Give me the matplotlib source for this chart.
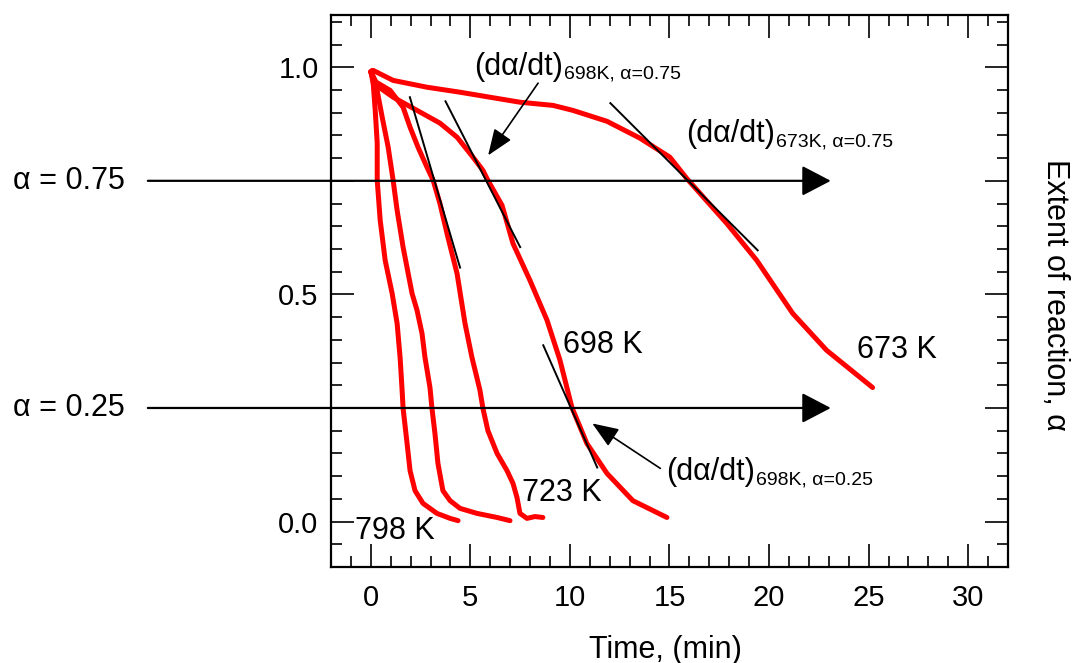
import numpy as np
import matplotlib
matplotlib.use("Agg")
import matplotlib.pyplot as plt
from matplotlib.ticker import MultipleLocator

plt.rcParams['font.family'] = ['Liberation Sans', 'DejaVu Sans']

# time (min) / extent of reaction for each temperature
t_798 = [0, 0.07, 0.22, 0.32, 0.32, 0.47, 0.72, 1.07, 1.32, 1.47, 1.57, 1.62, 1.82, 1.97, 2.22, 2.62, 3.32, 3.98, 4.38]
a_798 = [0.99, 0.993, 0.905, 0.833, 0.751, 0.663, 0.575, 0.502, 0.436, 0.361, 0.289, 0.249, 0.172, 0.112, 0.068, 0.040, 0.018, 0.007, 0.002]

t_748 = [0, 0.22, 0.57, 0.87, 1.12, 1.32, 1.62, 2.07, 2.32, 2.57, 2.72, 2.97, 3.07, 3.22, 3.37, 3.62, 3.98, 4.48, 5.33, 6.34, 6.99]
a_748 = [0.99, 0.971, 0.890, 0.824, 0.751, 0.685, 0.604, 0.502, 0.465, 0.414, 0.361, 0.295, 0.249, 0.194, 0.128, 0.068, 0.046, 0.029, 0.018, 0.009, 0.002]

t_723 = [0, 0.12, 0.97, 1.62, 1.97, 2.37, 2.82, 3.13, 3.47, 3.87, 4.33, 4.73, 5.08, 5.48, 5.63, 5.88, 6.34, 6.84, 7.14, 7.34, 7.49, 7.84, 8.24, 8.64]
a_723 = [0.99, 0.971, 0.949, 0.912, 0.868, 0.824, 0.780, 0.751, 0.700, 0.626, 0.546, 0.436, 0.361, 0.289, 0.249, 0.200, 0.150, 0.112, 0.084, 0.053, 0.018, 0.007, 0.011, 0.009]

t_698 = [0, 0.12, 1.12, 2.32, 3.47, 4.33, 5.13, 5.63, 5.88, 6.59, 7.14, 7.99, 8.85, 9.50, 10.10, 10.85, 11.86, 13.16, 14.87]
a_698 = [0.99, 0.965, 0.934, 0.905, 0.877, 0.846, 0.802, 0.773, 0.751, 0.696, 0.612, 0.531, 0.443, 0.355, 0.251, 0.172, 0.106, 0.046, 0.009]

t_673 = [0, 0.12, 1.12, 2.82, 4.48, 5.98, 7.49, 9.15, 10.15, 11.86, 13.51, 15.02, 15.87, 17.88, 19.38, 21.19, 22.89, 25.20]
a_673 = [0.99, 0.993, 0.971, 0.956, 0.945, 0.934, 0.923, 0.916, 0.905, 0.881, 0.844, 0.802, 0.755, 0.656, 0.575, 0.458, 0.377, 0.295]

# tangent segments (x0, x1), (y0, y1)
tan_723_x = [1.96, 4.48]
tan_723_y = [0.934, 0.559]
tan_698a_x = [3.75, 7.50]
tan_698a_y = [0.925, 0.604]
tan_698b_x = [8.66, 11.37]
tan_698b_y = [0.388, 0.119]
tan_673_x = [12.03, 19.43]
tan_673_y = [0.921, 0.597]

alpha_levels = [0.75, 0.25]

fig = plt.figure(figsize=(10.73, 6.63), dpi=100)
ax = fig.add_axes([0.3085, 0.1448, 0.6309, 0.8326])

red = '#ff0000'
for t, a in [(t_798, a_798), (t_748, a_748), (t_723, a_723), (t_698, a_698), (t_673, a_673)]:
    ax.plot(t, a, color=red, lw=3.6, solid_capstyle='round', solid_joinstyle='round')

for tx, ty in [(tan_723_x, tan_723_y), (tan_698a_x, tan_698a_y), (tan_698b_x, tan_698b_y), (tan_673_x, tan_673_y)]:
    ax.plot(tx, ty, color='black', lw=1.4)

ax.set_xlim(-2, 32)
ax.set_ylim(-0.1, 1.115)

# horizontal alpha arrows running out past the left spine
for lev in alpha_levels:
    ax.annotate('', xy=(23.1, lev), xytext=(-11.2, lev), xycoords='data',
                annotation_clip=False,
                arrowprops=dict(arrowstyle='-|>,head_length=0.9,head_width=0.47',
                                mutation_scale=20, lw=1.6, color='black',
                                shrinkA=0, shrinkB=0))
    ax.text(-12.35, lev, 'α = %.2f' % lev, ha='right', va='center',
            fontsize=22, clip_on=False)

ax.text(-0.8, -0.02, '798 K', fontsize=22, va='center')
ax.text(7.6, 0.062, '723 K', fontsize=22, va='center')
ax.text(9.66, 0.388, '698 K', fontsize=22, va='center')
ax.text(24.4, 0.377, '673 K', fontsize=22, va='center')


def rate_label(x, y, sub):
    main = ax.text(x, y, '(dα/dt)', fontsize=22, va='center')
    ax.annotate(sub, xy=(1, 0), xycoords=main, xytext=(0.5, 2.5),
                textcoords='offset points', va='baseline', ha='left', fontsize=14)


rate_label(5.2, 1.0, '698K, α=0.75')
rate_label(15.85, 0.852, '673K, α=0.75')
rate_label(14.85, 0.108, '698K, α=0.25')

arw = dict(arrowstyle='-|>,head_length=0.9,head_width=0.35', mutation_scale=18,
           lw=1.2, color='black', shrinkA=0, shrinkB=0)
ax.annotate('', xy=(5.89, 0.806), xytext=(8.40, 0.965), arrowprops=arw)
ax.annotate('', xy=(11.12, 0.216), xytext=(14.54, 0.117), arrowprops=arw)

ax.xaxis.set_major_locator(MultipleLocator(5))
ax.xaxis.set_minor_locator(MultipleLocator(1))
ax.set_yticks([0, 0.25, 0.5, 0.75, 1.0])
ax.set_yticklabels(['0.0', '', '0.5', '', '1.0'])
ax.yaxis.set_minor_locator(MultipleLocator(0.05))

ax.tick_params(which='both', direction='in', top=True, right=True, width=1.2, labelsize=21)
ax.tick_params(which='major', length=16.5)
ax.tick_params(which='minor', length=8)
ax.tick_params(axis='x', pad=12)
ax.tick_params(axis='y', pad=9)
for s in ax.spines.values():
    s.set_linewidth(1.6)

fig.text(665 / 1073, 1 - 650 / 663, 'Time, (min)', ha='center', va='center', fontsize=22)
fig.text(1055 / 1073, 1 - 295 / 663, 'Extent of reaction, α', ha='center', va='center',
         rotation=270, fontsize=22)

fig.savefig('out.png', dpi=100)
